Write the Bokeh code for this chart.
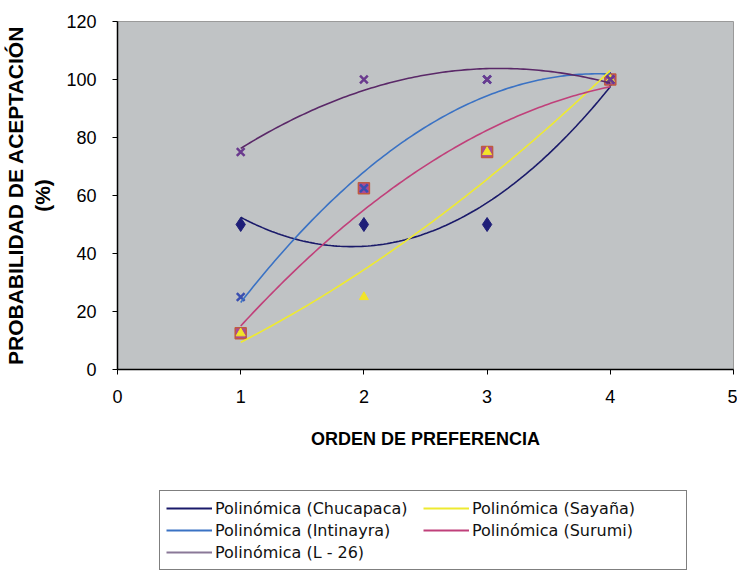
import numpy as np
from bokeh.plotting import figure
from bokeh.layouts import column
from bokeh.models import Range1d, FixedTicker, Legend, LegendItem
from bokeh.embed import file_html
from bokeh.resources import INLINE

# ---- data ----
orden = [1, 2, 3, 4]
chucapaca = [50, 50, 50, 100]
intinayra = [25, 62.5, 100, 100]
l26 = [75, 100, 100, 100]
sayana = [12.5, 25, 75, 100]
surumi = [12.5, 62.5, 75, 100]

x_ticks = [0, 1, 2, 3, 4, 5]
y_ticks = [0, 20, 40, 60, 80, 100, 120]

names = ["Polinómica (Chucapaca)", "Polinómica (Intinayra)", "Polinómica (L - 26)",
         "Polinómica (Sayaña)", "Polinómica (Surumi)"]

p = figure(width=737, height=460, output_backend="svg", toolbar_location=None,
           x_range=Range1d(0, 5), y_range=Range1d(0, 120),
           min_border_left=116, min_border_right=4, min_border_top=21, min_border_bottom=91)
p.background_fill_color = "#C0C3C5"
p.border_fill_color = "white"
p.outline_line_color = "#9A9A9A"
p.grid.visible = False

for ax, ticks in ((p.xaxis, x_ticks), (p.yaxis, y_ticks)):
    ax.ticker = FixedTicker(ticks=ticks)
    ax.axis_line_color = "black"
    ax.axis_line_width = 1.5
    ax.major_tick_line_color = "black"
    ax.major_tick_in = 0
    ax.major_tick_out = 5
    ax.minor_tick_line_color = None
    ax.major_label_text_font = "Liberation Sans"
    ax.major_label_text_font_size = "18px"
    ax.major_label_text_color = "black"
    ax.axis_label_text_font = "Liberation Sans"
    ax.axis_label_text_font_style = "bold"
    ax.axis_label_text_color = "black"

p.xaxis.axis_label = "ORDEN DE PREFERENCIA"
p.xaxis.axis_label_text_font_size = "18px"
p.xaxis.major_label_standoff = 15
p.xaxis.axis_label_standoff = 23
p.yaxis.axis_label = "PROBABILIDAD DE ACEPTACIÓN\n(%)"
p.yaxis.axis_label_text_font_size = "21px"
p.yaxis.major_label_standoff = 16
p.yaxis.axis_label_standoff = 9

# ---- markers ----
p.scatter(orden, chucapaca, marker="diamond", size=14, color="#1E1E78")
p.scatter(orden, surumi, marker="square", size=11, fill_color="#A84A98", line_color="#C05A40", line_width=1.5)
p.scatter(orden, sayana, marker="triangle", size=9, color="#F2E428")
p.scatter(orden, intinayra, marker="x", size=11, line_color="#3A4FB0", line_width=2.5)
p.scatter(orden, l26, marker="x", size=11, line_color="#6A3A8E", line_width=2.5)

# ---- quadratic trendlines ----
xs = np.linspace(orden[0], orden[-1], 120)
series = [chucapaca, intinayra, l26, sayana, surumi]
colors = ["#1A1A6A", "#3A72C4", "#5A2868", "#EEEA30", "#C0407A"]
trends = []
for ys, c in zip(series, colors):
    coef = np.polyfit(orden, ys, 2)
    t = np.polyval(coef, xs)
    trends.append(t)
    p.line(xs, t, line_color=c, line_width=1.6)

# ---- legend panel (separate figure below the chart) ----
q = figure(width=737, height=115, output_backend="svg", toolbar_location=None,
           x_range=Range1d(10, 11), y_range=Range1d(0, 1), min_border=0,
           x_axis_type=None, y_axis_type=None)
q.grid.visible = False
q.outline_line_color = None
q.background_fill_color = "white"

legend_colors = ["#1A1A6A", "#3A72C4", "#8A7898", "#EEEA30", "#C0407A"]
# same trendlines, out of this panel's view: used only as legend keys
legend_renderers = [q.line(xs, t, line_color=c, line_width=2) for t, c in zip(trends, legend_colors)]
items = [LegendItem(label=n, renderers=[r]) for n, r in zip(names, legend_renderers)]
legend = Legend(items=items, location=(42, 5), ncols=2,
                label_text_font="DejaVu Sans", label_text_font_size="16px",
                label_text_color="#111111",
                label_height=22, glyph_height=22, glyph_width=46, spacing=0,
                label_standoff=3, label_width=208, padding=6, margin=0,
                border_line_color="black", border_line_width=1,
                background_fill_color="white", background_fill_alpha=1)
q.add_layout(legend, "center")

open("out.html", "w").write(file_html(column(p, q, spacing=0), INLINE))
